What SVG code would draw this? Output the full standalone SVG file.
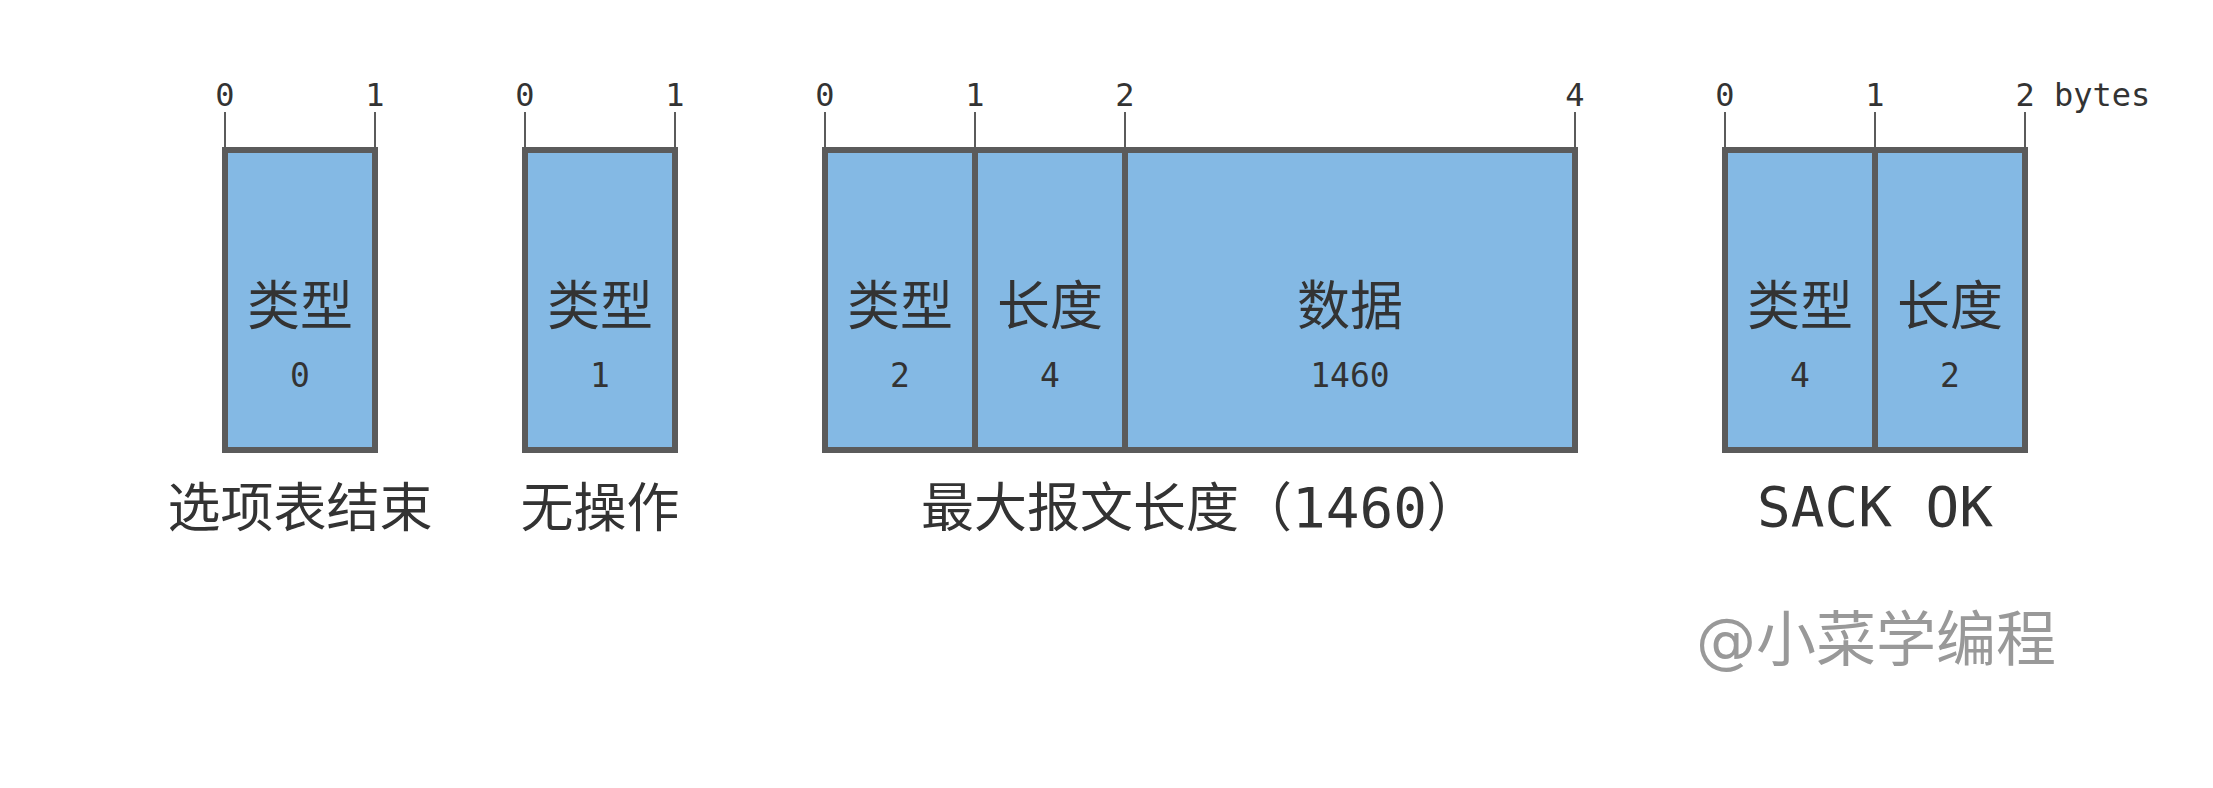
<svg xmlns="http://www.w3.org/2000/svg" width="2213" height="788" viewBox="0 0 2213 788">
<style>
.bg{fill:#ffffff}
.cell{fill:#84b9e4;stroke:none}
.frame{fill:none;stroke:#5b5b5b;stroke-width:6}
.div{stroke:#5b5b5b;stroke-width:6}
.tick{stroke:#5b5b5b;stroke-width:2}
.tl{font-family:"DejaVu Sans Mono","Liberation Mono",monospace;font-size:32px;fill:#333333;text-anchor:middle}
.val{font-family:"DejaVu Sans Mono","Liberation Mono",monospace;font-size:33px;fill:#333333;text-anchor:middle}
.cjk{font-family:"Noto Sans CJK SC","DejaVu Sans",sans-serif;font-size:53px;fill:#333333;text-anchor:middle}
.lab{font-family:"DejaVu Sans Mono","Noto Sans CJK SC",monospace;font-size:56px;fill:#333333}
.wm{font-family:"DejaVu Sans","Noto Sans CJK SC",sans-serif;font-size:60px;fill:#999999;text-anchor:middle}
</style>
<rect class="bg" x="0" y="0" width="2213" height="788"/>

<g id="ticks">
  <line class="tick" x1="225" y1="112" x2="225" y2="150"/>
  <line class="tick" x1="375" y1="112" x2="375" y2="150"/>
  <line class="tick" x1="525" y1="112" x2="525" y2="150"/>
  <line class="tick" x1="675" y1="112" x2="675" y2="150"/>
  <line class="tick" x1="825" y1="112" x2="825" y2="150"/>
  <line class="tick" x1="975" y1="112" x2="975" y2="150"/>
  <line class="tick" x1="1125" y1="112" x2="1125" y2="150"/>
  <line class="tick" x1="1575" y1="112" x2="1575" y2="150"/>
  <line class="tick" x1="1725" y1="112" x2="1725" y2="150"/>
  <line class="tick" x1="1875" y1="112" x2="1875" y2="150"/>
  <line class="tick" x1="2025" y1="112" x2="2025" y2="150"/>
  <text class="tl" x="225" y="106">0</text>
  <text class="tl" x="375" y="106">1</text>
  <text class="tl" x="525" y="106">0</text>
  <text class="tl" x="675" y="106">1</text>
  <text class="tl" x="825" y="106">0</text>
  <text class="tl" x="975" y="106">1</text>
  <text class="tl" x="1125" y="106">2</text>
  <text class="tl" x="1575" y="106">4</text>
  <text class="tl" x="1725" y="106">0</text>
  <text class="tl" x="1875" y="106">1</text>
  <text class="tl" x="2015.4" y="106" style="text-anchor:start">2 bytes</text>
</g>

<g id="opt-end">
  <rect class="cell" x="225" y="150" width="150" height="300"/>
  <rect class="frame" x="225" y="150" width="150" height="300"/>
  <text class="cjk" x="300" y="325">类型</text>
  <text class="val" x="300" y="387">0</text>
  <text class="cjk" x="300" y="527">选项表结束</text>
</g>

<g id="nop">
  <rect class="cell" x="525" y="150" width="150" height="300"/>
  <rect class="frame" x="525" y="150" width="150" height="300"/>
  <text class="cjk" x="600" y="325">类型</text>
  <text class="val" x="600" y="387">1</text>
  <text class="cjk" x="600" y="527">无操作</text>
</g>

<g id="mss">
  <rect class="cell" x="825" y="150" width="750" height="300"/>
  <line class="div" x1="975" y1="150" x2="975" y2="450"/>
  <line class="div" x1="1125" y1="150" x2="1125" y2="450"/>
  <rect class="frame" x="825" y="150" width="750" height="300"/>
  <text class="cjk" x="900" y="325">类型</text>
  <text class="val" x="900" y="387">2</text>
  <text class="cjk" x="1050" y="325">长度</text>
  <text class="val" x="1050" y="387">4</text>
  <text class="cjk" x="1350" y="325">数据</text>
  <text class="val" x="1350" y="387">1460</text>
  <text class="lab" x="921" y="527"><tspan style="font-size:53px;font-family:'Noto Sans CJK SC',sans-serif">最大报文长度（</tspan>1460<tspan style="font-size:53px;font-family:'Noto Sans CJK SC',sans-serif">）</tspan></text>
</g>

<g id="sack">
  <rect class="cell" x="1725" y="150" width="300" height="300"/>
  <line class="div" x1="1875" y1="150" x2="1875" y2="450"/>
  <rect class="frame" x="1725" y="150" width="300" height="300"/>
  <text class="cjk" x="1800" y="325">类型</text>
  <text class="val" x="1800" y="387">4</text>
  <text class="cjk" x="1950" y="325">长度</text>
  <text class="val" x="1950" y="387">2</text>
  <text class="lab" x="1875" y="526" style="text-anchor:middle">SACK OK</text>
</g>

<g id="watermark">
  <text class="wm" x="1876" y="661">@小菜学编程</text>
</g>
</svg>
